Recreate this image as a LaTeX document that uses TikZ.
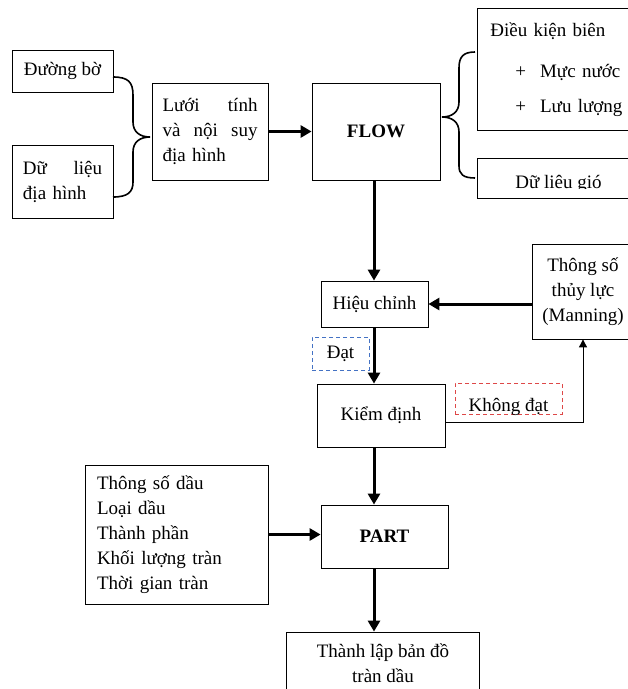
\documentclass[tikz,border=0pt]{standalone}
\usepackage{fontspec}
\setmainfont{Liberation Serif}
\usetikzlibrary{positioning}
\usetikzlibrary{arrows.meta}
\definecolor{datblue}{RGB}{68,114,196}
\definecolor{khongred}{RGB}{222,72,72}

\begin{document}
\begin{tikzpicture}[x=1pt, y=-1pt,
		>={Triangle[length=11pt,width=12pt]},
		box/.style={draw, line width=0.8pt, inner sep=0pt,
			font=\fontsize{19}{25}\selectfont},
		dashbox/.style={box, line width=0.9pt, dash pattern=on 4pt off 3pt},
		flowarrow/.style={->, line width=3pt},
		backarrow/.style={-{Triangle[length=8pt,width=8pt]}, line width=0.9pt},
		bracket/.style={line width=1.6pt}
		]
		
		\clip (0,0) rectangle (628,689);
		\coordinate (axis) at (374,0);
		
		%inputs
		\node[box, minimum width=101pt, minimum height=42pt] (dbo) at (62.5,71) {Đường bờ};
		\node[box, minimum width=101pt, minimum height=73pt, text width=79pt, align=left] (dlieu) at (62.5,181.5) {Dữ\hfill liệu\\địa hình};
		\node[box, minimum width=116pt, minimum height=97pt, text width=95pt, align=left] (luoi) at (210,131.5) {Lưới\hfill tính\\và\hfill nội\hfill suy\\địa hình};
		\node[box, minimum width=128pt, minimum height=97pt] (flow) at (376,131.5) {\textbf{FLOW}};
		\node[box, anchor=north west, minimum width=170pt, minimum height=122pt, text width=144pt, align=left] (dkb) at (477,8) {Điều kiện biên\\[16pt]\hspace*{25pt}+\hspace{14pt}Mực nước\\[10pt]\hspace*{25pt}+\hspace{14pt}Lưu lượng};
		\node[box, anchor=north west, minimum width=170pt, minimum height=40pt] (gio) at (477,158) {};
		\begin{scope}
			\clip (gio.north west) rectangle ([yshift=10pt]gio.south east);
			\node[box, draw=none, anchor=base west] (giotext) at (515,188) {Dữ liệu gió};
		\end{scope}
		
		% calibration
		\node[box, minimum width=107pt, minimum height=46pt] (hieu) at (374.5,304) {Hiệu chỉnh};
		\node[box, minimum width=102pt, minimum height=95pt, align=center] (tsl) at (583,291.5) {Thông số\\thủy lực\\(Manning)};
		\node[dashbox, draw=datblue, minimum width=57pt, minimum height=33pt] (dat) at (340.5,353.5) {Đạt};
		\node[box, minimum width=128pt, minimum height=63pt] (kiem) at (381,415.5) {Kiểm định};
		\node[dashbox, draw=khongred, minimum width=107pt, minimum height=31pt, text height=25pt, text depth=0pt] (khong) at (508.5,398.5) {Không đạt};
		
		% oil spill
		\node[box, minimum width=183pt, minimum height=139pt, text width=159pt, align=left] (tsd) at (176.5,534.5) {Thông số dầu\\Loại dầu\\Thành phần\\Khối lượng tràn\\Thời gian tràn};
		\node[box, minimum width=127pt, minimum height=63pt] (part) at (384.5,536.5) {\textbf{PART}};
		\node[box, minimum width=193pt, minimum height=62pt, align=center] (tlbd) at (383,663) {Thành lập bản đồ\\tràn dầu};
		
		% brackets
		\draw[bracket] (113,77) .. controls (128,77) and (133,82) .. (133,95) -- (133,122)
			.. controls (133,132) and (140,137) .. (150,137)
			.. controls (140,137) and (133,142) .. (133,152) -- (133,182)
			.. controls (133,192) and (128,197) .. (113,197);
		\draw[bracket] (475,52) .. controls (463,52) and (459,57) .. (459,68) -- (459,102)
			.. controls (459,112) and (452,117) .. (442,117)
			.. controls (452,117) and (459,122) .. (459,132) -- (459,166)
			.. controls (459,174) and (463,178) .. (475,178);
		
		% arrows
		\draw[flowarrow] (luoi) -- (flow);
		\draw[flowarrow] (flow.south -| axis) -- (hieu.north -| axis);
		\draw[flowarrow] (tsl.west |- hieu.east) -- (hieu.east);
		\draw[flowarrow] (hieu.south -| axis) -- (kiem.north -| axis);
		\draw[backarrow] ([yshift=-6.5pt]kiem.east) -| (tsl.south);
		\draw[flowarrow] (kiem.south -| axis) -- (part.north -| axis);
		\draw[flowarrow] (tsd.east) -- (tsd.east -| part.west);
		\draw[flowarrow] (part.south -| axis) -- (tlbd.north -| axis);
	\end{tikzpicture}
\end{document}
